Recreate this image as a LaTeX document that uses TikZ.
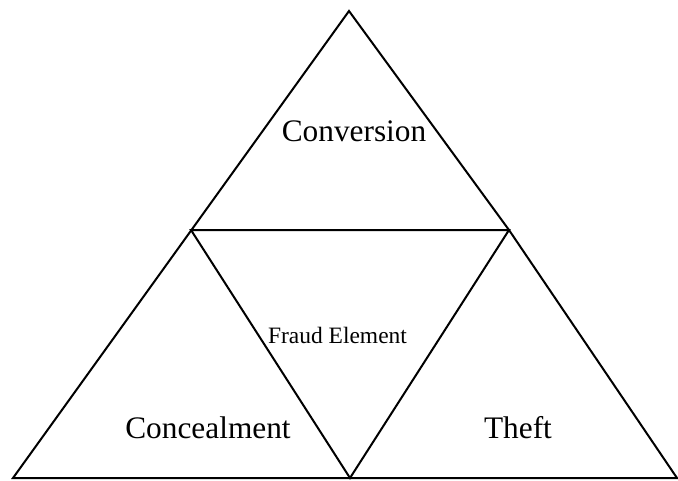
\documentclass[tikz,border=0pt]{standalone}
\usepackage{fontspec}
\setmainfont{Liberation Serif}
\begin{document}
\begin{tikzpicture}[x=0.75pt,y=-0.75pt,line width=1.5pt,
        biglabel/.style={anchor=base,font=\fontsize{23.5}{28}\selectfont},
        smalllabel/.style={anchor=base,font=\fontsize{17.6}{21}\selectfont}]
        \useasboundingbox (0,0) rectangle (678,480);

        \coordinate (apex) at (349,11);
        \coordinate (botleft) at (13,478);
        \coordinate (botright) at (677,478);
        \coordinate (midleft) at (191,230);
        \coordinate (midright) at (509,230);
        \coordinate (botmid) at (350,478);

        \draw (apex) -- (botleft) -- (botright) -- (midright) -- cycle;
        \draw (midleft) -- (midright) -- (botmid) -- cycle;

        \node[biglabel] (conversion) at (354,141){Conversion};
        \node[smalllabel] (fraud) at (337.5,343){Fraud Element};
        \node[biglabel] (concealment) at (208,438){Concealment};
        \node[biglabel] (theft) at (518,438){Theft};
    \end{tikzpicture}
\end{document}
